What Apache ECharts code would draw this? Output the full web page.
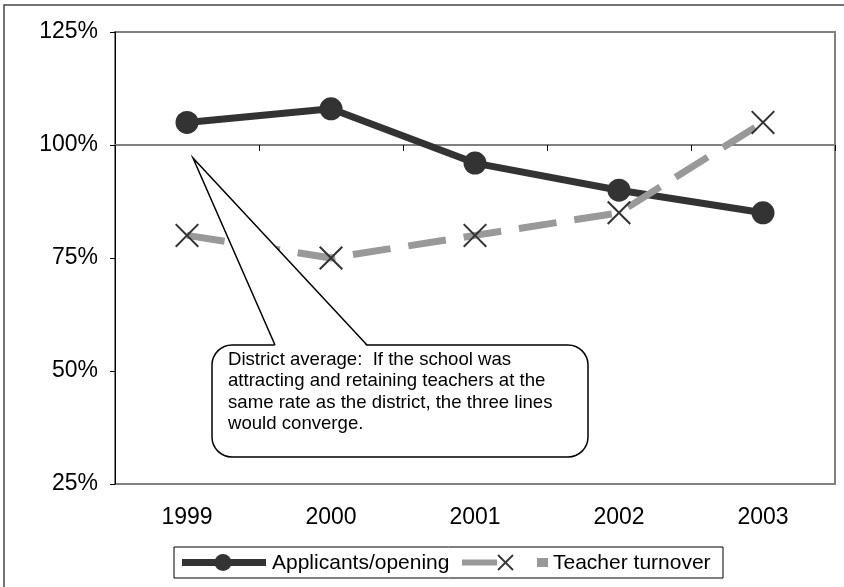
<!DOCTYPE html>
<html>
<head>
<meta charset="utf-8">
<script src="https://cdn.jsdelivr.net/npm/echarts@6/dist/echarts.min.js"></script>
<style>
  html, body { margin: 0; padding: 0; background: #fff; }
  #main { width: 844px; height: 587px; }
</style>
</head>
<body>
<div id="main"></div>
<script>
// data
let years = ['1999', '2000', '2001', '2002', '2003'];
let applicantsPerOpening = [105, 108, 96, 90, 85];
let teacherTurnover = [80, 75, 80, 85, 105];
let yMin = 25, yMax = 125, yStep = 25;
let refValue = 100; // district average

let font = 'Liberation Sans, Arial, sans-serif';
let gridTop = 32, gridBottom = 103, chartH = 587;
let gridH = chartH - gridTop - gridBottom;
// x axis line crosses at 100%
let refOffset = -gridH * (refValue - yMin) / (yMax - yMin);

let xMark = 'path://M6,0L50,44L94,0L100,6L56,50L100,94L94,100L50,56L6,100L0,94L44,50L0,6Z';

// callout box + pointer tip
let box = { x: 212, y: 345, w: 376, h: 112 };
let tip = [193, 158], baseL = 275, baseR = 367;

let chart = echarts.init(document.getElementById('main'));

chart.setOption({
    animation: false,
    backgroundColor: '#fff',
    grid: {
        left: 115, right: 9, top: gridTop, bottom: gridBottom,
        show: true, borderColor: '#808080', borderWidth: 2, backgroundColor: '#fff'
    },
    xAxis: [
        {
            type: 'category',
            data: years,
            axisLine: { show: false },
            axisTick: { show: false },
            axisLabel: { fontSize: 23, color: '#000', fontFamily: font, margin: 22 }
        },
        {
            type: 'category',
            data: years,
            position: 'bottom',
            offset: refOffset,
            axisLine: { show: true, lineStyle: { color: '#808080', width: 2 } },
            axisTick: { show: true, length: 6, lineStyle: { color: '#000', width: 1 } },
            axisLabel: { show: false }
        }
    ],
    yAxis: {
        type: 'value',
        min: yMin, max: yMax, interval: yStep,
        axisLine: { show: true, lineStyle: { color: '#000', width: 1 } },
        axisTick: { show: true, length: 5, lineStyle: { color: '#000' } },
        splitLine: { show: false },
        axisLabel: { formatter: '{value}%', fontSize: 23, color: '#000', fontFamily: font, margin: 17 }
    },
    series: [
        {
            name: 'Applicants/opening',
            type: 'line',
            data: applicantsPerOpening,
            symbol: 'circle',
            symbolSize: 23,
            lineStyle: { color: '#333', width: 7 },
            itemStyle: { color: '#333' }
        },
        {
            name: 'Teacher turnover',
            type: 'line',
            data: teacherTurnover,
            symbol: xMark,
            symbolSize: 24,
            lineStyle: { color: '#999', width: 7, type: [38, 18], cap: 'butt' },
            itemStyle: { color: '#333' }
        }
    ],
    graphic: [
        // outer frame
        {
            type: 'rect', z: 0, silent: true,
            shape: { x: 4, y: 5, width: 900, height: 700 },
            style: { fill: 'none', stroke: '#444', lineWidth: 1.5 }
        },
        // callout
        {
            type: 'rect', z: 100,
            shape: { x: box.x, y: box.y, width: box.w, height: box.h, r: 20 },
            style: { fill: '#fff', stroke: '#000', lineWidth: 1.5 }
        },
        {
            type: 'polygon', z: 101,
            shape: { points: [tip, [baseL, box.y + 1.5], [baseR, box.y + 1.5]] },
            style: { fill: '#fff' }
        },
        {
            type: 'polyline', z: 102,
            shape: { points: [[baseL, box.y], tip, [baseR, box.y]] },
            style: { fill: null, stroke: '#000', lineWidth: 1.5 }
        },
        {
            type: 'text', z: 103,
            style: {
                x: 228, y: 349,
                text: 'District average:  If the school was\nattracting and retaining teachers at the\nsame rate as the district, the three lines\nwould converge.',
                font: '18.6px ' + font,
                lineHeight: 21.5,
                fill: '#000',
                verticalAlign: 'top'
            }
        },
        // legend
        {
            type: 'group', z: 100,
            children: [
                { type: 'rect', shape: { x: 174, y: 547, width: 549, height: 31 }, style: { fill: '#fff', stroke: '#000', lineWidth: 1 } },
                { type: 'line', shape: { x1: 182, y1: 562.5, x2: 266, y2: 562.5 }, style: { stroke: '#333', lineWidth: 7 } },
                { type: 'circle', shape: { cx: 223, cy: 562.5, r: 8.5 }, style: { fill: '#333' } },
                { type: 'text', style: { x: 272, y: 563, text: 'Applicants/opening', font: '21px ' + font, fill: '#000', verticalAlign: 'middle' } },
                { type: 'line', shape: { x1: 462, y1: 562.5, x2: 497, y2: 562.5 }, style: { stroke: '#999', lineWidth: 6 } },
                { type: 'line', shape: { x1: 498, y1: 555, x2: 513, y2: 570 }, style: { stroke: '#333', lineWidth: 1.8 } },
                { type: 'line', shape: { x1: 513, y1: 555, x2: 498, y2: 570 }, style: { stroke: '#333', lineWidth: 1.8 } },
                { type: 'rect', shape: { x: 537, y: 558, width: 11, height: 9 }, style: { fill: '#999' } },
                { type: 'text', style: { x: 553, y: 563, text: 'Teacher turnover', font: '21px ' + font, fill: '#000', verticalAlign: 'middle' } }
            ]
        }
    ]
});
</script>
</body>
</html>
